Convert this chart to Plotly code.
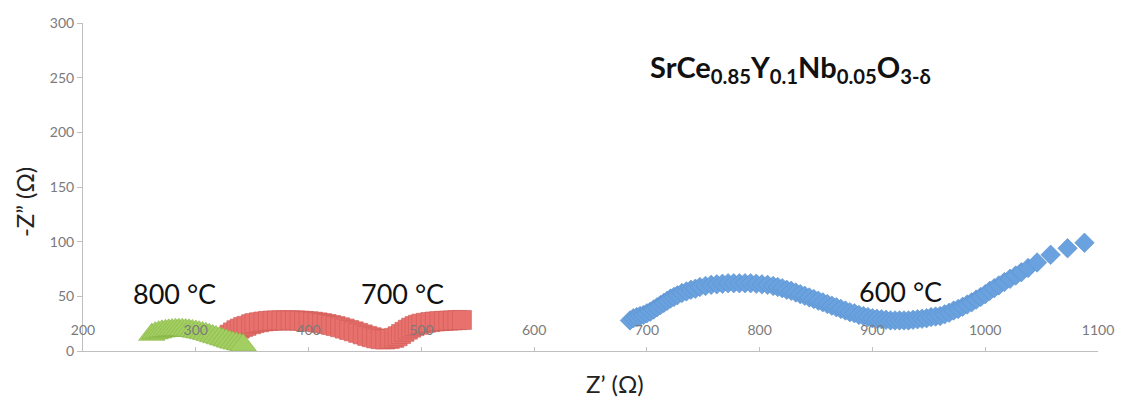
import plotly.graph_objects as go

# Impedance spectra (Nyquist) of SrCe0.85Y0.1Nb0.05O3-δ at three temperatures
z_re_600 = [685, 688, 691, 694, 697, 700, 703, 706, 709, 712, 715, 718, 721, 724, 727,
            731, 735, 739, 743, 747, 752, 757, 762, 767, 772, 777, 782, 787, 792, 797,
            802, 807, 812, 816, 820, 824, 828, 832, 836, 840, 844, 848, 852, 856, 860,
            864, 868, 872, 876, 880, 884, 888, 892, 896, 900, 904, 908, 912, 916, 920,
            924, 928, 932, 936, 940, 944, 948, 952, 956, 960, 964, 968, 972, 976, 980,
            984, 988, 992, 996, 1000, 1004, 1008, 1012, 1017, 1022, 1027, 1032, 1038,
            1046, 1058, 1073, 1088]
z_im_600 = [28, 30, 31, 32, 33, 34.5, 36, 38, 40, 42, 44, 46, 48, 49.5, 51,
            53, 54.5, 56, 57, 58.5, 59.5, 60.5, 61, 61.5, 62, 62, 62, 62, 62, 61.5,
            61, 60.5, 59.5, 58.5, 57.5, 56, 55, 53.5, 52, 50.5, 49, 47.5, 46, 44.5, 43,
            41.5, 40, 38.5, 37, 35.5, 34.5, 33, 32, 31, 30, 29.5, 29, 28.5, 28, 28,
            28, 28, 28, 28.5, 29, 29.5, 30, 31, 31.5, 32, 33.5, 35, 37, 38.5, 40.5,
            42.5, 44.5, 47, 49.5, 52, 55, 57.5, 60, 63, 66, 69, 72, 76,
            81, 88, 94, 99]

z_re_700 = [330, 333, 336, 339, 342, 345, 349, 352, 356, 360, 364, 368, 372, 376, 380,
            384, 388, 392, 396, 400, 404, 408, 412, 416, 420, 424, 428, 432, 436, 440,
            444, 448, 452, 456, 460, 464, 468, 472, 476, 479, 482, 485, 488, 491, 494,
            497, 500, 504, 508, 512, 516, 520, 524, 528, 532, 536]
z_im_700 = [15, 17, 19, 20.5, 22, 23, 24.5, 25.5, 26.3, 27, 27.5, 27.8, 28, 28, 28,
            28, 28, 27.8, 27.5, 27.2, 26.8, 26.2, 25.5, 24.7, 23.8, 22.8, 21.7, 20.5, 19.2, 18,
            16.6, 15.2, 13.8, 12.6, 11.5, 10.8, 10.5, 11, 12, 13.5, 15.5, 17.5, 19.5, 21.3, 22.8,
            24, 25, 25.8, 26.5, 27, 27.3, 27.6, 27.8, 28, 28.2, 28.4]

z_re_800 = [261, 264, 267, 270, 273, 276, 279, 282, 285, 288, 291, 294, 297, 300, 303,
            306, 309, 312, 315, 318, 321, 324, 327, 330, 333, 336, 339, 342]
z_im_800 = [15, 16.3, 17.2, 18, 18.5, 18.9, 19.2, 19.4, 19.5, 19.5, 19.2, 18.9, 18.4, 17.8, 17.2,
            16.5, 15.7, 14.8, 13.8, 12.8, 11.8, 10.8, 9.8, 8.8, 7.8, 7, 6.2, 5.5]

temp_labels = ["600 °C", "700 °C", "800 °C"]
temp_label_x = [925, 483, 281]
temp_label_y = [54, 53, 53]

x_ticks = [200, 300, 400, 500, 600, 700, 800, 900, 1000, 1100]
y_ticks = [0, 50, 100, 150, 200, 250, 300]

FONT = "Lato"
AXIS_GRAY = "#bfbfbf"
TICK_GRAY = "#7a7a7a"

fig = go.Figure()

fig.add_trace(go.Scatter(
    x=z_re_600, y=z_im_600, mode="markers", name="600 °C",
    marker=dict(symbol="diamond", size=15, color="#6aa2df",
                line=dict(color="#5a8fcc", width=0.6)),
))
fig.add_trace(go.Scatter(
    x=z_re_700, y=z_im_700, mode="markers", name="700 °C",
    marker=dict(symbol="square", size=19, color="#e8716d",
                line=dict(color="#cf5c58", width=0.6)),
))
fig.add_trace(go.Scatter(
    x=z_re_800, y=z_im_800, mode="markers", name="800 °C",
    marker=dict(symbol="triangle-up", size=23, color="#a3cf62",
                line=dict(color="#86b345", width=0.6)),
))

for txt, tx, ty in zip(temp_labels, temp_label_x, temp_label_y):
    fig.add_annotation(x=tx, y=ty, text=txt, showarrow=False,
                       font=dict(family=FONT, size=27, color="#111111"),
                       xanchor="center", yanchor="middle")

fig.add_annotation(
    x=827, y=258, showarrow=False, xanchor="center", yanchor="middle",
    text="<b>SrCe<sub>0.85</sub>Y<sub>0.1</sub>Nb<sub>0.05</sub>O<sub>3-δ</sub></b>",
    font=dict(family=FONT, size=29, color="#111111"),
)

# Axis titles placed as anchored text
fig.add_annotation(
    x=672, xref="x", y=-0.10, yref="paper", showarrow=False,
    xanchor="center", yanchor="middle", text="Z’ (Ω)",
    font=dict(family=FONT, size=24, color="#222222"),
)
fig.add_annotation(
    x=-0.057, xref="paper", y=0.455, yref="paper", showarrow=False,
    xanchor="center", yanchor="middle", text="-Z” (Ω)", textangle=-90,
    font=dict(family=FONT, size=24, color="#222222"),
)

fig.update_xaxes(
    range=[200, 1100], tickvals=x_ticks, showgrid=False, zeroline=False,
    showline=True, linecolor=AXIS_GRAY, linewidth=1,
    ticks="inside", ticklen=4, tickcolor=AXIS_GRAY,
    ticklabelposition="inside", ticklabeloverflow="allow", ticklabelstandoff=9,
    tickfont=dict(family=FONT, size=14, color=TICK_GRAY),
)
fig.update_yaxes(
    range=[0, 300], tickvals=y_ticks, showgrid=False, zeroline=False,
    showline=True, linecolor=AXIS_GRAY, linewidth=1,
    ticks="outside", ticklen=5, tickcolor=AXIS_GRAY,
    tickfont=dict(family=FONT, size=14, color=TICK_GRAY),
)

fig.update_layout(
    width=1126, height=402,
    margin=dict(l=83, r=19, t=23, b=51),
    paper_bgcolor="white", plot_bgcolor="white",
    showlegend=False,
)

fig.write_html("out.html")
